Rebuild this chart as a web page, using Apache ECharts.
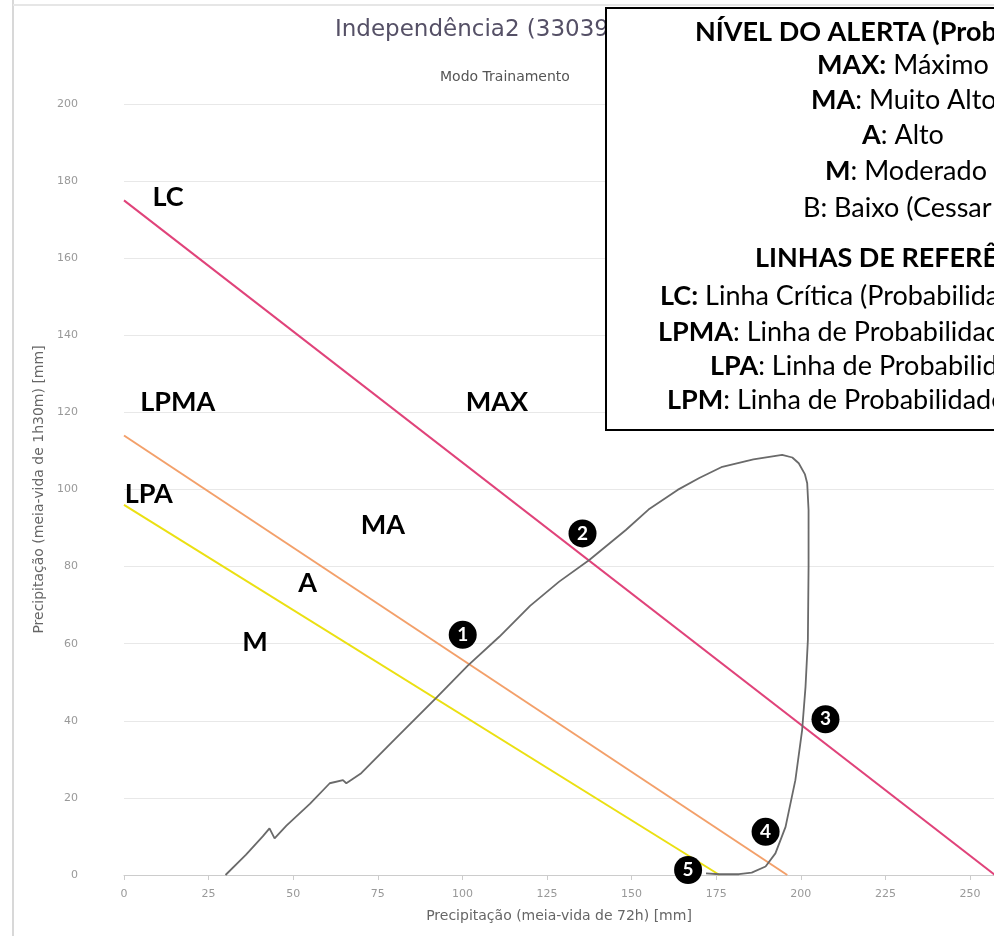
<!DOCTYPE html>
<html><head><meta charset="utf-8">
<script src="https://cdn.jsdelivr.net/npm/echarts@6/dist/echarts.min.js"></script>
<style>html,body{margin:0;padding:0;background:#fff}#c{width:994px;height:936px}</style>
</head><body><div id="c"></div>
<script>
// ---- data ----
const xTicks = [0,25,50,75,100,125,150,175,200,225,250];
const yTicks = [0,20,40,60,80,100,120,140,160,180,200];
const lineLC   = [[0,175],[257.4,0]];
const lineLPMA = [[0,114],[196,0]];
const lineLPA  = [[0,96],[176,0]];
const curve = [[30,0],[36,5.2],[41,10],[43,12.1],[44.5,9.5],[48,12.8],[55,18.5],[60.8,23.8],[64.7,24.6],[65.7,23.8],[70.1,26.4],[80,35.2],[91.9,45.6],[101.6,54.3],[110.9,61.8],[120,69.8],[128.6,76.1],[137.5,81.7],[148.3,89.5],[155,94.8],[163.6,99.9],[170,103],[176.8,105.9],[186,107.8],[194.5,109],[197.5,108.3],[199.4,106.8],[201.2,104],[201.9,101.6],[202.3,94.7],[202.3,80],[202.1,61],[201.4,48.8],[200.4,37.6],[198.4,24.6],[195.5,12.5],[192.5,5.6],[189.6,2.2],[185.5,0.6],[181.7,0.2],[176,0.2],[172,0.4]];
const markers = [[100.1,62.3,'1'],[135.5,88.6,'2'],[207.3,40.4,'3'],[189.6,11.2,'4'],[166.7,1.3,'5']];
const zoneLabels = [[13,175.9,'LC'],[15.9,122.7,'LPMA'],[7.3,98.8,'LPA'],[110.2,122.7,'MAX'],[76.5,90.8,'MA'],[54.3,75.7,'A'],[38.7,60.4,'M']];
const titleText = 'Independência2 (3303906)';
const subText = 'Modo Trainamento';
const xName = 'Precipitação (meia-vida de 72h) [mm]';
const yName = 'Precipitação (meia-vida de 1h30m) [mm]';
const boxLines = [
  {x:695,y:32,t:'{b|NÍVEL DO ALERTA (Probabilidade)}'},
  {x:817,y:65,t:'{b|MAX:} Máximo'},
  {x:811,y:100,t:'{b|MA}: Muito Alto'},
  {x:862,y:135,t:'{b|A}: Alto'},
  {x:825,y:171,t:'{b|M}: Moderado'},
  {x:803,y:208,t:'B: Baixo (Cessar Alerta)'},
  {x:755,y:258,t:'{b|LINHAS DE REFERÊNCIA}'},
  {x:660,y:296,t:'{b|LC:} Linha Crítica (Probabilidade Máxima)'},
  {x:658,y:332,t:'{b|LPMA}: Linha de Probabilidade Muito Alta'},
  {x:710,y:366,t:'{b|LPA}: Linha de Probabilidade Alta'},
  {x:667,y:400,t:'{b|LPM}: Linha de Probabilidade Moderada'}
];

const chart = echarts.init(document.getElementById('c'), null, {renderer:'canvas'});
const lab = "Lato, 'Open Sans', sans-serif";
const graphics = [
  {type:'line', shape:{x1:13,y1:0,x2:13,y2:936}, style:{stroke:'#d8d8d8',lineWidth:2}, z:1},
  {type:'line', shape:{x1:13,y1:5,x2:994,y2:5}, style:{stroke:'#e6e6e6',lineWidth:2}, z:1},
  {type:'text', left:335, top:19, style:{text:titleText, font:"23px 'DejaVu Sans', sans-serif", fill:'#555066'}, z:5},
  {type:'text', left:440, top:70, style:{text:subText, font:"14px 'DejaVu Sans', sans-serif", fill:'#555'}, z:5},
  {type:'rect', shape:{x:606,y:8,width:500,height:422}, style:{fill:'#fff',stroke:'#000',lineWidth:2}, z:10}
];
boxLines.forEach(l=>{
  graphics.push({type:'text', x:l.x, y:l.y, z:11, style:{text:l.t, fill:'#000', font:"27px "+lab, textVerticalAlign:'middle', verticalAlign:'middle', rich:{b:{fontWeight:'bold', fontSize:27, fontFamily:lab, fill:'#000'}}}});
});

chart.setOption({
  animation:false,
  backgroundColor:'#fff',
  grid:{left:124, right:0, top:104, bottom:61, containLabel:false},
  xAxis:{type:'value', min:0, max:257.1, interval:25,
    name:xName, nameLocation:'middle', nameGap:34,
    nameTextStyle:{color:'#666', fontSize:14, fontFamily:'DejaVu Sans'},
    axisLine:{lineStyle:{color:'#ccc'}}, axisTick:{show:true, length:5, lineStyle:{color:'#ccc'}},
    axisLabel:{color:'#999', fontSize:11, fontFamily:'DejaVu Sans', margin:14, showMaxLabel:false},
    splitLine:{show:false}},
  yAxis:{type:'value', min:0, max:200, interval:20,
    name:yName, nameLocation:'middle', nameGap:66, nameRotate:90,
    nameTextStyle:{color:'#666', fontSize:14, fontFamily:'DejaVu Sans'},
    axisLine:{show:false}, axisTick:{show:false},
    axisLabel:{color:'#999', fontSize:11, fontFamily:'DejaVu Sans', margin:46},
    splitLine:{lineStyle:{color:'#e8e8e8'}}},
  series:[
    {type:'line', data:lineLC, symbol:'none', lineStyle:{color:'#e0437a', width:2}, z:3},
    {type:'line', data:lineLPMA, symbol:'none', lineStyle:{color:'#f3a06a', width:2}, z:3},
    {type:'line', data:lineLPA, symbol:'none', lineStyle:{color:'#ebe012', width:2}, z:3},
    {type:'line', data:curve, symbol:'none', lineStyle:{color:'#6a6a6a', width:1.8}, z:4},
    {type:'scatter', data:markers, symbol:'circle', symbolSize:28, itemStyle:{color:'#000', opacity:1}, z:6,
      label:{show:true, position:'inside', formatter:p=>p.data[2], color:'#fff', fontWeight:'bold', fontSize:19, fontFamily:lab}},
    {type:'scatter', data:zoneLabels, symbolSize:0, itemStyle:{opacity:1}, z:6,
      label:{show:true, position:'inside', formatter:p=>p.data[2], color:'#000', fontWeight:'bold', fontSize:27, fontFamily:lab}}
  ],
  graphic:graphics
});
</script></body></html>
